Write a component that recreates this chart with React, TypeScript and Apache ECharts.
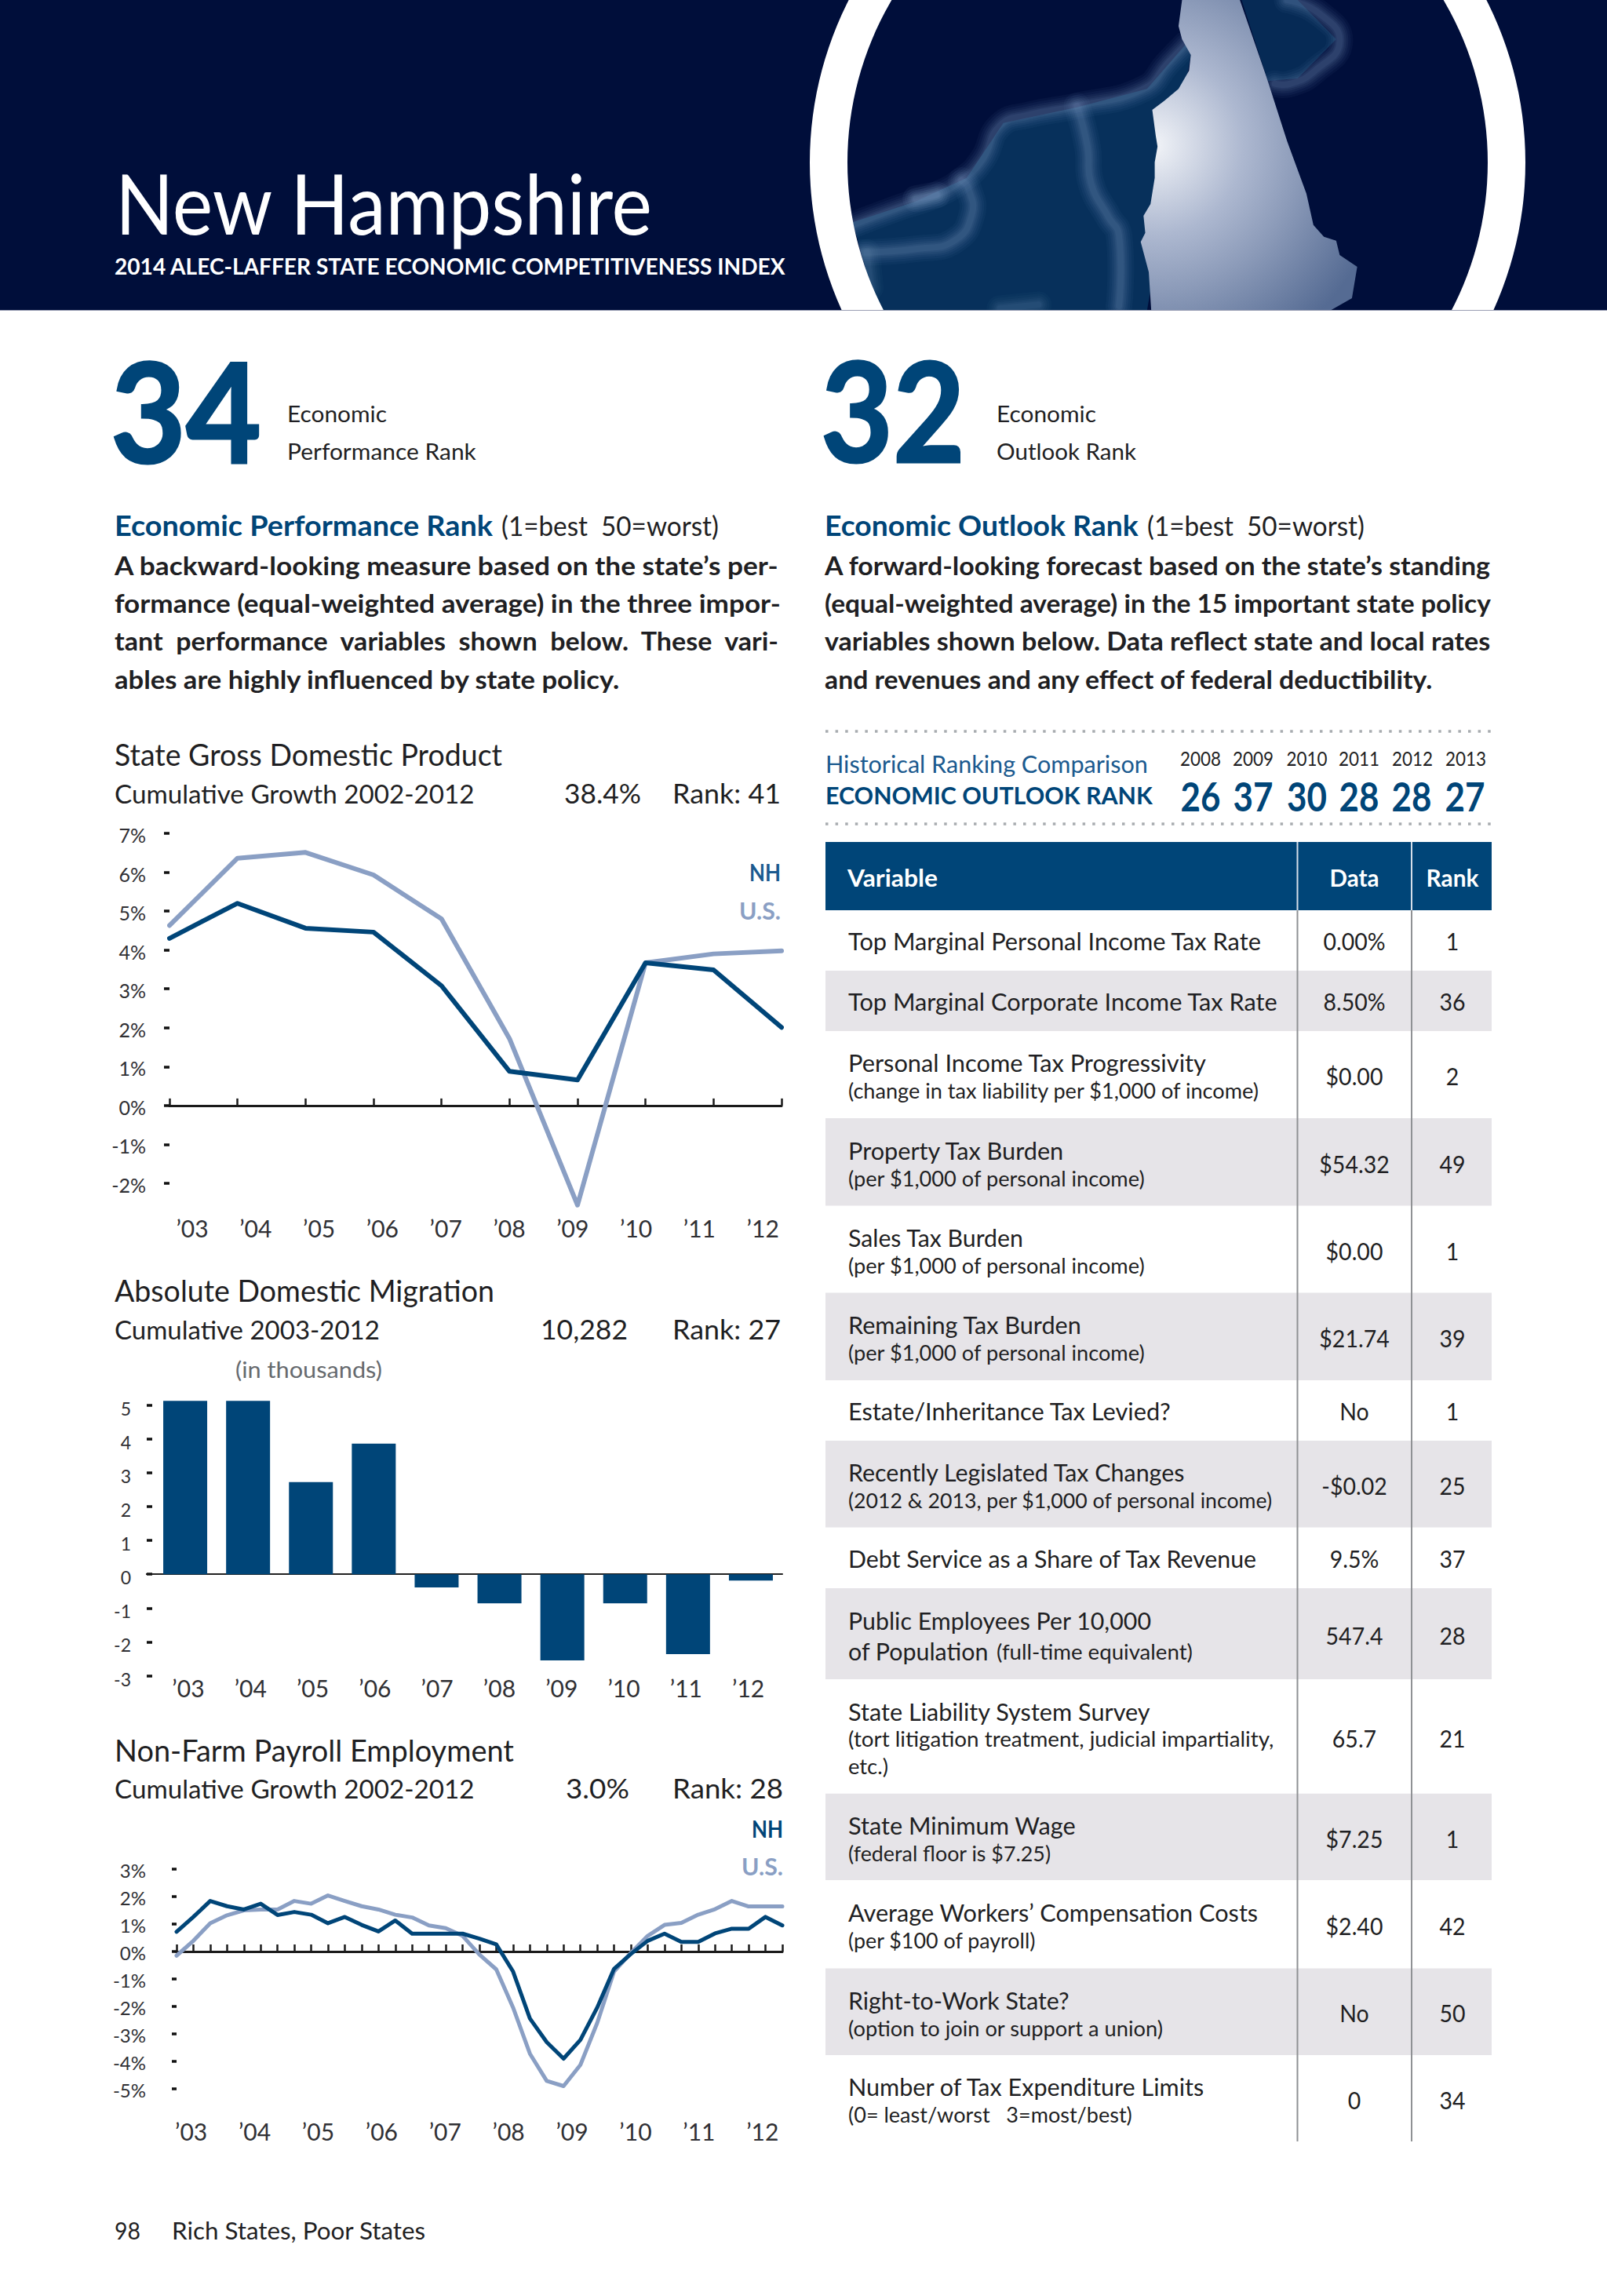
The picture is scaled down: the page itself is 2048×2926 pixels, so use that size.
import React, { useEffect, useRef } from "react";
import * as echarts from "echarts";

const FONT = "Lato";
const NAVY = "#004578";
const MID = "#1b5a8f";
const LIGHT = "#8a9fc4";
const INK = "#1f1f23";

const years = ["’03", "’04", "’05", "’06", "’07", "’08", "’09", "’10", "’11", "’12"];

const gdpNH = [4.3, 5.2, 4.56, 4.46, 3.08, 0.88, 0.66, 3.67, 3.49, 2.01];
const gdpUS = [4.63, 6.36, 6.51, 5.93, 4.8, 1.72, -2.56, 3.67, 3.9, 3.98];

const migration = [5.12, 5.12, 2.72, 3.86, -0.39, -0.86, -2.55, -0.86, -2.36, -0.19];

const payrollNH = [0.72, 1.26, 1.84, 1.65, 1.53, 1.74, 1.33, 1.44, 1.34, 1.03, 1.26, 0.97, 0.73, 1.13, 0.65, 0.65, 0.65, 0.65, 0.47, 0.26, -0.73, -2.44, -3.3, -3.9, -3.22, -2.04, -0.63, -0.09, 0.39, 0.65, 0.35, 0.35, 0.66, 0.83, 0.83, 1.26, 0.95];
const payrollUS = [-0.15, 0.39, 1.03, 1.32, 1.5, 1.53, 1.53, 1.84, 1.74, 2.04, 1.84, 1.65, 1.53, 1.34, 1.24, 0.95, 0.85, 0.57, -0.11, -0.65, -2.04, -3.72, -4.71, -4.9, -4.13, -2.6, -0.73, -0.05, 0.57, 0.97, 1.04, 1.34, 1.54, 1.84, 1.64, 1.64, 1.64];

const histYears = ["2008", "2009", "2010", "2011", "2012", "2013"];
const histRanks = ["26", "37", "30", "28", "28", "27"];

const varNames = [
  "Top Marginal Personal Income Tax Rate",
  "Top Marginal Corporate Income Tax Rate",
  "Personal Income Tax Progressivity",
  "Property Tax Burden",
  "Sales Tax Burden",
  "Remaining Tax Burden",
  "Estate/Inheritance Tax Levied?",
  "Recently Legislated Tax Changes",
  "Debt Service as a Share of Tax Revenue",
  "Public Employees Per 10,000",
  "State Liability System Survey",
  "State Minimum Wage",
  "Average Workers’ Compensation Costs",
  "Right-to-Work State?",
  "Number of Tax Expenditure Limits",
];
const varNotes = [
  "", "",
  "(change in tax liability per $1,000 of income)",
  "(per $1,000 of personal income)",
  "(per $1,000 of personal income)",
  "(per $1,000 of personal income)",
  "",
  "(2012 & 2013, per $1,000 of personal income)",
  "",
  "",
  "(tort litigation treatment, judicial impartiality,",
  "(federal floor is $7.25)",
  "(per $100 of payroll)",
  "(option to join or support a union)",
  "(0= least/worst   3=most/best)",
];
const varData = ["0.00%", "8.50%", "$0.00", "$54.32", "$0.00", "$21.74", "No", "-$0.02", "9.5%", "547.4", "65.7", "$7.25", "$2.40", "No", "0"];
const varRanks = ["1", "36", "2", "49", "1", "39", "1", "25", "37", "28", "21", "1", "42", "50", "34"];

// layout only
const rowEdges = [1160, 1237, 1314, 1425, 1536.5, 1647.5, 1759, 1836, 1946.5, 2024, 2140, 2285.7, 2396, 2508.4, 2619, 2729];
const nameRight = [1608, 1629, 1538, 1357, 1305, 1379, 1493, 1511, 1603, 1467.6, 1466.5, 1371, 1604, 1362.7, 1536.6];
const noteRight = [0, 0, 1606, 1460, 1460, 1460, 0, 1622.5, 0, 0, 1623.6, 1339.7, 1320.6, 1483, 1443];

const ctx = document.createElement("canvas").getContext("2d")!;
function T(text: string, x: number, y: number, size: number, o: any = {}) {
  const weight = o.weight || "normal";
  ctx.font = `${weight} ${size}px ${FONT}`;
  const m = ctx.measureText(text).width;
  const scaleX = o.w ? o.w / m : o.sx || 1;
  const align = o.align || "left";
  const style: any = {
    text, fontFamily: FONT, fontSize: size, fontWeight: weight,
    fill: o.color || INK, align, textAlign: align,
    verticalAlign: "middle", textVerticalAlign: "middle",
  };
  if (o.stroke) { style.stroke = o.color || INK; style.lineWidth = o.stroke; }
  return { type: "text", x, y, scaleX, silent: true, style };
}
const rect = (x: number, y: number, width: number, height: number, fill: string) => ({ type: "rect", silent: true, shape: { x, y, width, height }, style: { fill } });
const line = (x1: number, y1: number, x2: number, y2: number, stroke: string, lineWidth: number, extra: any = {}) => ({ type: "line", silent: true, shape: { x1, y1, x2, y2 }, style: { stroke, lineWidth, ...extra } });

const MX = (zx: number) => 1060 + zx / 2.24;
const MY = (zy: number) => zy / 3;
const mp = (pts: number[][]) => pts.map(([a, b]) => [MX(a), MY(b)]);

function soft(points: number[][], gain = 1) {
  return [[34, 0.05], [28, 0.06], [22, 0.07], [17, 0.08], [12, 0.09], [8, 0.1]].map(([w, op]) => ({
    type: "polyline", silent: true, shape: { points: mp(points), smooth: 0.5 },
    style: { stroke: "#7f9cc4", lineWidth: w, opacity: op * gain, fill: "none", lineCap: "round", lineJoin: "round" },
  }));
}

function headerElements() {
  const grad = new echarts.graphic.RadialGradient(1470, 185, 300, [
    { offset: 0, color: "#f2f4f8" },
    { offset: 0.38, color: "#adb8d0" },
    { offset: 0.62, color: "#8c9bb9" },
    { offset: 1, color: "#556b93" },
  ], true);
  return [
    rect(0, 0, 2048, 395, "#000e3a"),
    { type: "polygon", silent: true, shape: { points: mp([[130, 1188], [60, 850], [240, 770], [385, 680], [490, 470], [700, 410], [900, 340], [1010, 170], [1025, 210], [900, 1188]]) }, style: { fill: "#07305b" } },
    { type: "polygon", silent: true, shape: { points: mp([[1170, 0], [1330, 0], [1440, 150], [1330, 300], [1245, 310]]) }, style: { fill: "#062a55" } },
    ...soft([[60, 860], [200, 790], [290, 750], [370, 690], [430, 610], [480, 480], [560, 440], [700, 405], [890, 340], [960, 240], [1010, 170]]),
    ...soft([[700, 405], [730, 560], [740, 700], [790, 830], [820, 900], [820, 1170]]),
    ...soft([[90, 965], [250, 950], [350, 920], [400, 820], [390, 720], [370, 690]]),
    ...soft([[1300, 0], [1390, 50], [1450, 160], [1380, 270], [1310, 320], [1265, 320]]),
    ...soft([[240, 760], [300, 745]], 1.4),
    ...soft([[480, 1180], [590, 1165]], 0.7),
    ...soft([[100, 965], [110, 1100]], 0.7),
    {
      type: "polygon", silent: true,
      shape: { points: mp([[1000, 0], [990, 100], [1000, 150], [1025, 210], [1020, 270], [990, 340], [950, 385], [915, 420], [925, 520], [930, 560], [922, 620], [922, 680], [910, 780], [890, 825], [895, 890], [882, 925], [905, 1040], [912, 1186], [1425, 1186], [1485, 1140], [1500, 1020], [1450, 975], [1440, 920], [1405, 905], [1375, 860], [1355, 740], [1300, 540], [1240, 290], [1165, 0]]) },
      style: { fill: grad },
    },
    { type: "ring", silent: true, shape: { cx: 1488, cy: 207, r: 456, r0: 408 }, style: { fill: "#ffffff" } },
    rect(0, 395, 2048, 340, "#ffffff"),
    line(0, 395.5, 2048, 395.5, "#9a9fb4", 1),
    T("New Hampshire", 147, 258, 106, { w: 686, color: "#ffffff" }),
    T("2014 ALEC-LAFFER STATE ECONOMIC COMPETITIVENESS INDEX", 146, 339, 29, { w: 856, weight: "bold", color: "#ffffff" }),
  ];
}

function topElements() {
  const bodyL = [
    ["A backward-looking measure based on the state’s per-", 847],
    ["formance (equal-weighted average) in the three impor-", 849],
    ["tant  performance  variables  shown  below.  These  vari-", 849],
    ["ables are highly influenced by state policy.", 645],
  ] as [string, number][];
  const bodyR = [
    ["A forward-looking forecast based on the state’s standing", 849],
    ["(equal-weighted average) in the 15 important state policy", 849],
    ["variables shown below. Data reflect state and local rates", 849],
    ["and revenues and any effect of federal deductibility.", 776],
  ] as [string, number][];
  const ys = [720, 768, 816, 865];
  return [
    T("34", 141, 521, 176, { w: 192, weight: "bold", color: NAVY, stroke: 3 }),
    T("Economic", 366, 527, 29, { w: 127 }),
    T("Performance Rank", 366, 575, 29, { w: 241 }),
    T("Economic Performance Rank", 146, 669, 37, { w: 482, weight: "bold", color: NAVY }),
    T("(1=best  50=worst)", 639, 670, 34, { w: 277 }),
    ...bodyL.map(([t, w], i) => T(t, 146, ys[i], 33, { w, weight: "bold" })),
    T("32", 1046, 521, 176, { w: 184, weight: "bold", color: NAVY, stroke: 3 }),
    T("Economic", 1270, 527, 29, { w: 127 }),
    T("Outlook Rank", 1270, 575, 29, { w: 178 }),
    T("Economic Outlook Rank", 1051, 669, 37, { w: 400, weight: "bold", color: NAVY }),
    T("(1=best  50=worst)", 1462, 670, 34, { w: 277 }),
    ...bodyR.map(([t, w], i) => T(t, 1051, ys[i], 33, { w, weight: "bold" })),
  ];
}

function chartTexts() {
  return [
    T("State Gross Domestic Product", 146, 961, 38, { w: 494 }),
    T("Cumulative Growth 2002-2012", 146, 1011, 33, { w: 459 }),
    T("38.4%", 719, 1011, 34, { w: 98 }),
    T("Rank: 41", 857, 1011, 34, { w: 138 }),
    T("NH", 995, 1111, 30, { align: "right", weight: "bold", color: MID, w: 40 }),
    T("U.S.", 995, 1160, 30, { align: "right", weight: "bold", color: LIGHT, w: 53 }),

    T("Absolute Domestic Migration", 146, 1644, 38, { w: 484 }),
    T("Cumulative 2003-2012", 146, 1694, 33, { w: 338 }),
    T("10,282", 689, 1694, 34, { w: 111 }),
    T("Rank: 27", 857, 1694, 34, { w: 138 }),
    T("(in thousands)", 300, 1745, 29, { w: 187, color: "#666a6e" }),
    line(186, 2006, 196, 2006, "#222222", 2),

    T("Non-Farm Payroll Employment", 146, 2230, 38, { w: 509 }),
    T("Cumulative Growth 2002-2012", 146, 2279, 33, { w: 459 }),
    T("3.0%", 721, 2279, 34, { w: 81 }),
    T("Rank: 28", 857, 2279, 34, { w: 141 }),
    T("NH", 998, 2330, 30, { align: "right", weight: "bold", color: NAVY, w: 40 }),
    T("U.S.", 998, 2378.5, 30, { align: "right", weight: "bold", color: LIGHT, w: 53 }),

    T("98", 146, 2842, 31, { w: 33 }),
    T("Rich States, Poor States", 219, 2842, 31, { w: 324 }),
  ];
}

function tableElements() {
  const dots = { lineDash: [3.5, 9.1] };
  const out: any[] = [
    line(1052, 932, 1901, 932, "#a8acb0", 3.5, dots),
    line(1052, 1050, 1901, 1050, "#a8acb0", 3.5, dots),
    T("Historical Ranking Comparison", 1052, 973, 30, { w: 411, color: MID }),
    T("ECONOMIC OUTLOOK RANK", 1052, 1013, 31, { w: 417, weight: "bold", color: NAVY }),
  ];
  const cx = [1530, 1597, 1665.5, 1732, 1800, 1868];
  histYears.forEach((y, i) => out.push(T(y, cx[i], 967, 25, { align: "center", w: 52 })));
  histRanks.forEach((r, i) => out.push(T(r, cx[i] - (i > 3 ? 1 : 0), 1013, 52, { align: "center", weight: "bold", color: NAVY, w: 51 })));

  out.push(rect(1052, 1073, 849, 87, NAVY));
  rowEdges.slice(0, -1).forEach((top, i) => {
    const grey = [1, 3, 5, 7, 9, 11, 13].includes(i);
    if (grey) out.push(rect(1052, top, 849, rowEdges[i + 1] - top, "#e6e4e8"));
  });
  [1653.5, 1799].forEach((x) => {
    out.push(line(x, 1073, x, 1160, "#d5dee9", 2));
    out.push(line(x, 1160, x, 2729, "#8f9194", 2));
  });
  out.push(T("Variable", 1080, 1118, 31, { w: 115, weight: "bold", color: "#ffffff" }));
  out.push(T("Data", 1726, 1118, 31, { w: 63, weight: "bold", color: "#ffffff", align: "center" }));
  out.push(T("Rank", 1851, 1118, 31, { w: 67, weight: "bold", color: "#ffffff", align: "center" }));

  const X = 1081;
  varNames.forEach((name, i) => {
    const c = (rowEdges[i] + rowEdges[i + 1]) / 2;
    const hasNote = !!varNotes[i];
    const isPublic = i === 9;
    const isLiab = i === 10;
    const nameY = isLiab ? c - 32 : isPublic ? c - 17 : hasNote ? c - 15 : c + 1;
    out.push(T(name, X, nameY, 30, { w: nameRight[i] - X }));
    if (hasNote) out.push(T(varNotes[i], X, isLiab ? c + 3 : c + 20.5, 27, { w: noteRight[i] - X }));
    if (isLiab) out.push(T("etc.)", X, c + 38, 27, { w: 51 }));
    if (isPublic) {
      out.push(T("of Population", X, c + 22, 30, { w: 179 }));
      out.push(T("(full-time equivalent)", 1270, c + 23, 27, { w: 250 }));
    }
    const dy = hasNote || isPublic ? 2 : 1;
    out.push(T(varData[i], 1726, c + dy, 30, { align: "center", sx: 0.95 }));
    out.push(T(varRanks[i], 1851, c + dy, 30, { align: "center", sx: 0.95 }));
  });
  return out;
}

function lineSeries(name: string, data: number[], color: string, idx: number, width: number) {
  return {
    name, type: "line", data, xAxisIndex: idx, yAxisIndex: idx, symbol: "none", clip: false,
    lineStyle: { color, width, cap: "round", join: "round" }, silent: true, z: color === NAVY ? 4 : 3,
  };
}

function yAxisOf(gridIndex: number, min: number, max: number, fmt: (v: number) => string, opt: any) {
  return {
    type: "value", gridIndex, min, max, interval: 1, offset: opt.offset || 0,
    axisLine: { show: false }, splitLine: { show: false },
    axisTick: { show: true, length: opt.tick, lineStyle: { color: "#111", width: 3.5 } },
    axisLabel: {
      show: true, margin: opt.margin, formatter: (v: number) => `{a|${fmt(v)}}`,
      rich: { a: { fontFamily: FONT, fontSize: opt.size, color: "#303034", padding: [opt.drop, 0, 0, 0] } },
    },
  };
}
const hiddenY = (gridIndex: number) => ({ type: "value", gridIndex, show: false, min: 0, max: 1 });
const labelAxis = (gridIndex: number) => ({
  type: "category", gridIndex, data: years, boundaryGap: true, axisLine: { show: false }, axisTick: { show: false },
  axisLabel: { show: true, interval: 0, margin: 20, verticalAlign: "middle", fontFamily: FONT, fontSize: 30, color: "#303034" },
});
const pct = (v: number) => `${v}%`;

export default function App() {
  const ref = useRef<HTMLDivElement>(null);
  useEffect(() => {
    document.body.style.margin = "0";
    const chart = echarts.init(ref.current!, undefined, { renderer: "svg" });
    chart.setOption({
      animation: false,
      backgroundColor: "#ffffff",
      tooltip: { show: false },
      grid: [
        { left: 216, width: 780, top: 1062, height: 446 },
        { left: 204.6, width: 808, top: 1544, height: 1 },
        { left: 196, width: 801, top: 1790.5, height: 345 },
        { left: 200.3, width: 793, top: 2130, height: 1 },
        { left: 225, width: 772, top: 2382, height: 280 },
        { left: 203.2, width: 809, top: 2695, height: 1 },
      ],
      xAxis: [
        { type: "category", gridIndex: 0, data: years, boundaryGap: false, axisLine: { lineStyle: { color: "#1a1a1a", width: 3 } }, axisTick: { show: true, inside: true, length: 9, lineStyle: { color: "#1a1a1a", width: 2.5 } }, axisLabel: { show: false } },
        labelAxis(1),
        { type: "category", gridIndex: 2, data: years, boundaryGap: true, axisLine: { lineStyle: { color: "#222222", width: 2 } }, axisTick: { show: false }, axisLabel: { show: false } },
        labelAxis(3),
        { type: "category", gridIndex: 4, data: payrollNH.map((_, i) => String(i)), boundaryGap: false, axisLine: { lineStyle: { color: "#1a1a1a", width: 3 } }, axisTick: { show: true, inside: true, interval: 0, length: 9, lineStyle: { color: "#1a1a1a", width: 2.5 } }, axisLabel: { show: false } },
        labelAxis(5),
      ],
      yAxis: [
        yAxisOf(0, -2, 7, pct, { tick: 7, margin: 30, size: 25, drop: 4 }),
        hiddenY(1),
        yAxisOf(2, -3, 5, String, { tick: 7, offset: 2, margin: 27, size: 23, drop: 8 }),
        hiddenY(3),
        yAxisOf(4, -5, 3, pct, { tick: 6, margin: 39, size: 24, drop: 2 }),
        hiddenY(5),
      ],
      series: [
        lineSeries("U.S.", gdpUS, LIGHT, 0, 6),
        lineSeries("NH", gdpNH, NAVY, 0, 6),
        { name: "Migration", type: "bar", data: migration, xAxisIndex: 2, yAxisIndex: 2, barWidth: 56, clip: false, itemStyle: { color: NAVY }, silent: true },
        lineSeries("U.S.", payrollUS, LIGHT, 4, 5),
        lineSeries("NH", payrollNH, NAVY, 4, 5),
      ],
      graphic: { elements: [...headerElements(), ...topElements(), ...chartTexts(), ...tableElements()] },
    });
    return () => chart.dispose();
  }, []);
  return <div ref={ref} style={{ position: "absolute", left: 0, top: 0, width: 2048, height: 2926 }} />;
}
